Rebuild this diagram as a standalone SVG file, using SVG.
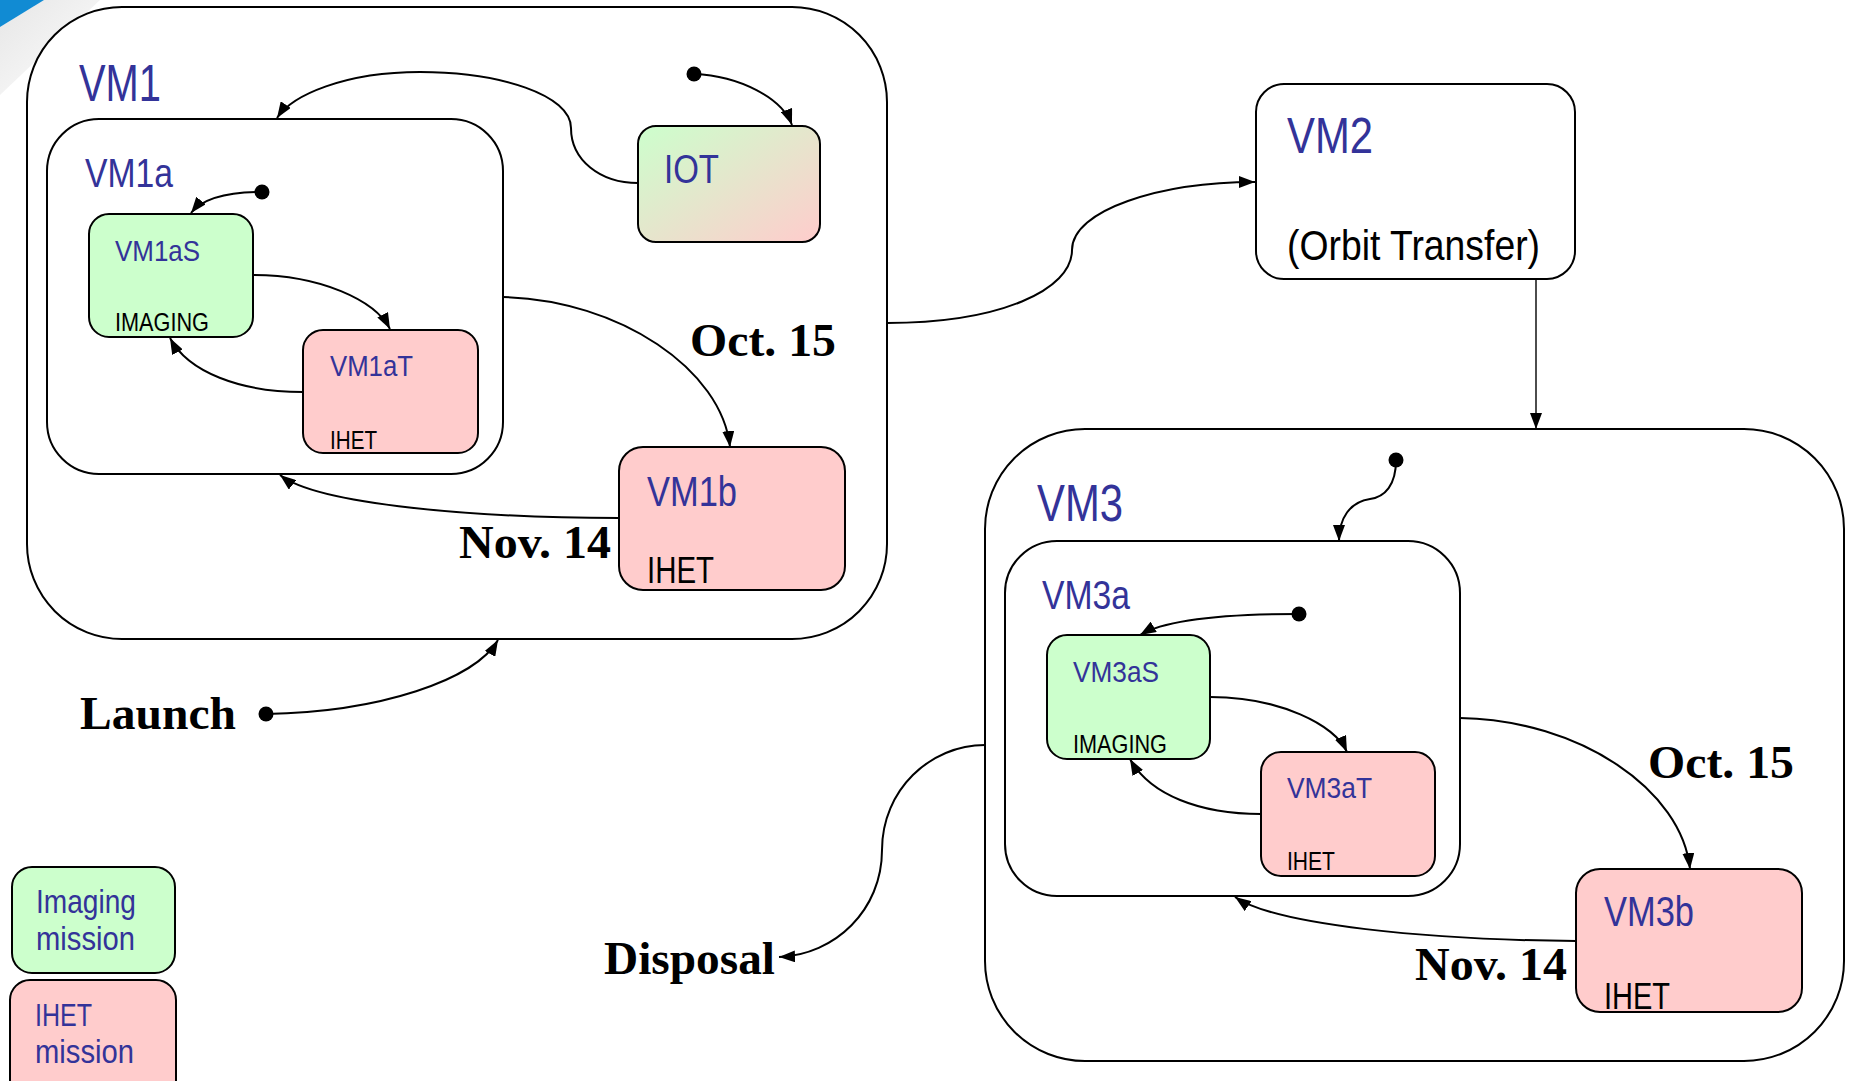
<svg xmlns="http://www.w3.org/2000/svg" width="1849" height="1081" viewBox="0 0 1849 1081">
  <defs>
    <style>
      .box{stroke:#000;stroke-width:2;fill:#fff}
      .img{fill:#ccffcc}
      .ihet{fill:#ffcccc}
      .iot{fill:url(#iotFill)}
      .lbl{font-family:"Liberation Sans Narrow","Liberation Sans",Arial,sans-serif;fill:#333399}
      .sub{font-family:"Liberation Sans Narrow","Liberation Sans",Arial,sans-serif;fill:#000}
      .date{font-family:"Liberation Serif","Times New Roman",serif;font-weight:bold;font-size:47px;fill:#000}
      .conn path{fill:none;stroke:#000;stroke-width:2;marker-end:url(#arrow)}
      .conn path.thin{stroke-width:1.4}
      .dot{fill:#000}
    </style>
    <marker id="arrow" viewBox="0 0 16 12" refX="16" refY="6" markerWidth="16" markerHeight="12" orient="auto" markerUnits="userSpaceOnUse">
      <path d="M0,0 L16,6 L0,12 z" fill="#000"/>
    </marker>
    <linearGradient id="iotFill" x1="0" y1="0" x2="1" y2="1">
      <stop offset="0" stop-color="#ccffcc"/>
      <stop offset="1" stop-color="#ffcccc"/>
    </linearGradient>
    <linearGradient id="cornerFade" x1="0" y1="0" x2="1" y2="1">
      <stop offset="0" stop-color="#e6e6e6"/>
      <stop offset="1" stop-color="#ffffff"/>
    </linearGradient>
  </defs>

  <rect width="1849" height="1081" fill="#fff"/>

  <!-- corner ribbon -->
  <polygon points="43,0 100,0 0,95 0,27" fill="url(#cornerFade)"/>
  <polygon points="0,0 44,0 0,27" fill="#118bd3"/>

  <!-- composite states -->
  <g id="vm1">
    <rect class="box" x="27" y="7" width="860" height="632" rx="95"/>
    <text class="lbl" x="79" y="101" font-size="52" textLength="82" lengthAdjust="spacingAndGlyphs">VM1</text>
  </g>
  <g id="vm1a">
    <rect class="box" x="47" y="119" width="456" height="355" rx="52"/>
    <text class="lbl" x="85" y="187" font-size="40" textLength="88" lengthAdjust="spacingAndGlyphs">VM1a</text>
  </g>
  <g id="vm1aS">
    <rect class="box img" x="89" y="214" width="164" height="123" rx="20"/>
    <text class="lbl" x="115" y="261" font-size="30" textLength="85" lengthAdjust="spacingAndGlyphs">VM1aS</text>
    <text class="sub" x="115" y="331" font-size="25" textLength="94" lengthAdjust="spacingAndGlyphs">IMAGING</text>
  </g>
  <g id="vm1aT">
    <rect class="box ihet" x="303" y="330" width="175" height="123" rx="20"/>
    <text class="lbl" x="330" y="376" font-size="30" textLength="83" lengthAdjust="spacingAndGlyphs">VM1aT</text>
    <text class="sub" x="330" y="449" font-size="25" textLength="47" lengthAdjust="spacingAndGlyphs">IHET</text>
  </g>
  <g id="iot">
    <rect class="box iot" x="638" y="126" width="182" height="116" rx="18"/>
    <text class="lbl" x="664" y="183" font-size="41" textLength="55" lengthAdjust="spacingAndGlyphs">IOT</text>
  </g>
  <g id="vm1b">
    <rect class="box ihet" x="619" y="447" width="226" height="143" rx="24"/>
    <text class="lbl" x="647" y="506" font-size="42" textLength="90" lengthAdjust="spacingAndGlyphs">VM1b</text>
    <text class="sub" x="647" y="583" font-size="36" textLength="67" lengthAdjust="spacingAndGlyphs">IHET</text>
  </g>

  <g id="vm2">
    <rect class="box" x="1256" y="84" width="319" height="195" rx="28"/>
    <text class="lbl" x="1287" y="153" font-size="50" textLength="86" lengthAdjust="spacingAndGlyphs">VM2</text>
    <text class="sub" x="1287" y="260" font-size="42" textLength="253" lengthAdjust="spacingAndGlyphs">(Orbit Transfer)</text>
  </g>

  <g id="vm3">
    <rect class="box" x="985" y="429" width="859" height="632" rx="100"/>
    <text class="lbl" x="1037" y="521" font-size="52" textLength="86" lengthAdjust="spacingAndGlyphs">VM3</text>
  </g>
  <g id="vm3a">
    <rect class="box" x="1005" y="541" width="455" height="355" rx="52"/>
    <text class="lbl" x="1042" y="609" font-size="40" textLength="88" lengthAdjust="spacingAndGlyphs">VM3a</text>
  </g>
  <g id="vm3aS">
    <rect class="box img" x="1047" y="635" width="163" height="124" rx="20"/>
    <text class="lbl" x="1073" y="682" font-size="30" textLength="86" lengthAdjust="spacingAndGlyphs">VM3aS</text>
    <text class="sub" x="1073" y="753" font-size="25" textLength="94" lengthAdjust="spacingAndGlyphs">IMAGING</text>
  </g>
  <g id="vm3aT">
    <rect class="box ihet" x="1261" y="752" width="174" height="124" rx="20"/>
    <text class="lbl" x="1287" y="798" font-size="30" textLength="85" lengthAdjust="spacingAndGlyphs">VM3aT</text>
    <text class="sub" x="1287" y="870" font-size="25" textLength="48" lengthAdjust="spacingAndGlyphs">IHET</text>
  </g>
  <g id="vm3b">
    <rect class="box ihet" x="1576" y="869" width="226" height="143" rx="24"/>
    <text class="lbl" x="1604" y="926" font-size="42" textLength="90" lengthAdjust="spacingAndGlyphs">VM3b</text>
    <text class="sub" x="1604" y="1009" font-size="36" textLength="66" lengthAdjust="spacingAndGlyphs">IHET</text>
  </g>

  <!-- legend -->
  <g id="legend-imaging">
    <rect class="box img" x="12" y="867" width="163" height="106" rx="20"/>
    <text class="lbl" x="36" y="913" font-size="33" textLength="100" lengthAdjust="spacingAndGlyphs">Imaging</text>
    <text class="lbl" x="36" y="950" font-size="33" textLength="99" lengthAdjust="spacingAndGlyphs">mission</text>
  </g>
  <g id="legend-ihet">
    <rect class="box ihet" x="10" y="980" width="166" height="120" rx="20"/>
    <text class="lbl" x="35" y="1026" font-size="32" textLength="57" lengthAdjust="spacingAndGlyphs">IHET</text>
    <text class="lbl" x="35" y="1063" font-size="33" textLength="99" lengthAdjust="spacingAndGlyphs">mission</text>
  </g>

  <!-- transitions -->
  <g id="connectors" class="conn">
    <path d="M694,74 C740,76 782,98 792,125"/>
    <path d="M638,183 C600,183 571,160 571,128 C571,95 500,72 420,72 C345,72 292,95 277,118"/>
    <path d="M262,192 C230,192 203,198 191,213"/>
    <path d="M253,275 C320,275 375,300 390,329"/>
    <path d="M303,392 C240,392 188,372 170,338"/>
    <path d="M503,297 C620,300 722,370 730,447"/>
    <path d="M619,518 C480,518 318,505 280,475"/>
    <path d="M266,714 C380,712 475,680 498,640"/>
    <path d="M887,323 C1000,323 1072,290 1072,250 C1072,210 1160,182 1255,182"/>
    <path class="thin" d="M1536,279 L1536,429"/>
    <path d="M1396,460 C1396,485 1385,497 1370,499 C1350,502 1339,518 1339,541"/>
    <path d="M1299,614 C1220,614 1165,620 1140,635"/>
    <path d="M1210,697 C1280,697 1335,725 1347,752"/>
    <path d="M1261,814 C1200,814 1150,795 1130,759"/>
    <path d="M1460,718 C1580,720 1682,790 1690,869"/>
    <path d="M1576,941 C1430,940 1275,925 1235,897"/>
    <path d="M985,745 C930,745 882,790 882,850 C882,910 835,955 779,957"/>
    <circle class="dot" cx="694" cy="74" r="7.5"/>
    <circle class="dot" cx="262" cy="192" r="7.5"/>
    <circle class="dot" cx="266" cy="714" r="7.5"/>
    <circle class="dot" cx="1396" cy="460" r="7.5"/>
    <circle class="dot" cx="1299" cy="614" r="7.5"/>
    <text class="date" x="690" y="356" textLength="146" lengthAdjust="spacingAndGlyphs">Oct. 15</text>
    <text class="date" x="459" y="558" textLength="152" lengthAdjust="spacingAndGlyphs">Nov. 14</text>
    <text class="date" x="1648" y="778" textLength="146" lengthAdjust="spacingAndGlyphs">Oct. 15</text>
    <text class="date" x="1415" y="980" textLength="152" lengthAdjust="spacingAndGlyphs">Nov. 14</text>
    <text class="date" x="80" y="729" textLength="156" lengthAdjust="spacingAndGlyphs">Launch</text>
    <text class="date" x="604" y="974" textLength="171" lengthAdjust="spacingAndGlyphs">Disposal</text>
  </g>
</svg>
